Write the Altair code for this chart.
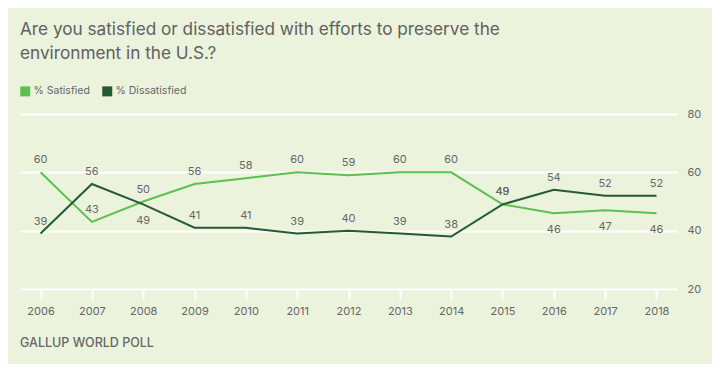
import altair as alt
import pandas as pd

years = list(range(2006, 2019))
satisfied = [60, 43, 50, 56, 58, 60, 59, 60, 60, 49, 46, 47, 46]
dissatisfied = [39, 56, 49, 41, 41, 39, 40, 39, 38, 49, 54, 52, 52]
sat_label_pos = ["above"] * 10 + ["below"] * 3
dis_label_pos = ["above", "above", "below"] + ["above"] * 10

series_names = ["% Satisfied", "% Dissatisfied"]
colors = ["#5cc04e", "#245a36"]

rows = []
for i, yr in enumerate(years):
    rows.append({"year": str(yr), "series": series_names[0], "value": satisfied[i], "pos": sat_label_pos[i]})
    rows.append({"year": str(yr), "series": series_names[1], "value": dissatisfied[i], "pos": dis_label_pos[i]})
df = pd.DataFrame(rows)

TXT = "#666666"
FONT = "Inter"

x = alt.X("year:O", scale=alt.Scale(type="point", padding=0.4),
          axis=alt.Axis(title=None, labelAngle=0, labelFontSize=11, labelColor=TXT, labelFont=FONT,
                        domain=False, ticks=True, tickColor="white", tickWidth=2, tickSize=10,
                        labelPadding=6, grid=False))
y = alt.Y("value:Q", scale=alt.Scale(domain=[20, 80]),
          axis=alt.Axis(title=None, orient="right", values=[20, 40, 60, 80], labelFontSize=11,
                        labelColor=TXT, labelFont=FONT, domain=False, ticks=False, labelPadding=10,
                        grid=True, gridColor="white", gridWidth=2))

color = alt.Color("series:N", scale=alt.Scale(domain=series_names, range=colors),
                  legend=alt.Legend(title=None, orient="none", legendX=0, legendY=-28, direction="horizontal",
                                    symbolType="square", symbolSize=25, symbolStrokeWidth=5,
                                    labelFontSize=10.5, labelColor=TXT, labelFont=FONT, columnPadding=4,
                                    labelOffset=3, symbolOffset=0))

base = alt.Chart(df)
lines = base.mark_line(strokeWidth=2).encode(x=x, y=y, color=color)

above = base.transform_filter(alt.datum.pos == "above").mark_text(
    dy=-12, fontSize=11, color=TXT, font=FONT).encode(
    x=alt.X("year:O"), y=alt.Y("value:Q"), text="value:Q")
below = base.transform_filter(alt.datum.pos == "below").mark_text(
    dy=17, fontSize=11, color=TXT, font=FONT).encode(
    x=alt.X("year:O"), y=alt.Y("value:Q"), text="value:Q")

footer = alt.Chart(pd.DataFrame({"t": ["GALLUP WORLD POLL"]})).mark_text(
    align="left", baseline="middle", fontSize=12.5, color=TXT, font=FONT, fontWeight=500
).encode(x=alt.value(0), y=alt.value(229), text="t:N")

chart = alt.layer(lines, above, below, footer).properties(
    width=657, height=175,
    title=alt.TitleParams(
        text=["Are you satisfied or dissatisfied with efforts to preserve the", "environment in the U.S.?"],
        anchor="start", fontSize=17.2, font=FONT, fontWeight="normal", color="#606060",
        lineHeight=24, offset=24, frame="group"),
    autosize=alt.AutoSizeParams(type="none"),
    padding={"left": 12, "top": 106, "right": 35, "bottom": 75},
    background="#ebf3dd",
).configure_view(stroke=None).configure_axisX(labelFlush=False)

chart.save("out.html", embed_options={"renderer": "svg", "actions": False})
